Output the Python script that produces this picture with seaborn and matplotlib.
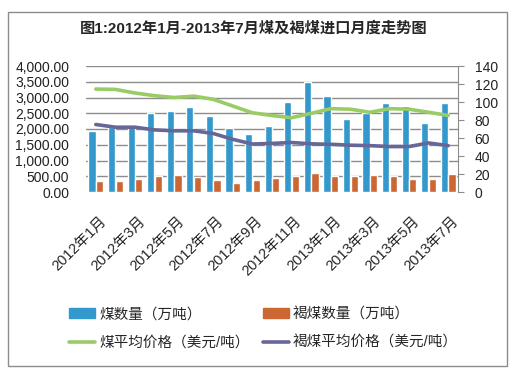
import pandas as pd
import matplotlib
matplotlib.use('Agg')
import matplotlib.pyplot as plt
import seaborn as sns
from matplotlib.patches import Rectangle
from matplotlib.lines import Line2D
from matplotlib.ticker import StrMethodFormatter
from matplotlib.transforms import ScaledTranslation

months = ['2012年1月', '2012年2月', '2012年3月', '2012年4月', '2012年5月', '2012年6月',
          '2012年7月', '2012年8月', '2012年9月', '2012年10月', '2012年11月', '2012年12月',
          '2013年1月', '2013年2月', '2013年3月', '2013年4月', '2013年5月', '2013年6月',
          '2013年7月']
coal_qty = [1950, 2050, 2130, 2500, 2580, 2700, 2420, 2040, 1850, 2100,
            2860, 3480, 3050, 2320, 2520, 2830, 2730, 2190, 2830]
lignite_qty = [350, 350, 420, 520, 540, 490, 390, 300, 390, 455,
               520, 600, 520, 520, 550, 520, 420, 420, 580]
coal_price = [114.4, 114, 110, 107, 105, 106.5, 103, 95.5, 88, 85,
              82.5, 87.4, 92.6, 92, 88.6, 92.6, 92, 88.6, 85]
lignite_price = [75, 72, 72, 69, 68, 68, 65, 58.5, 53.3, 54,
                 55, 53.5, 53, 52, 51.5, 50.5, 50.5, 54.5, 51.5]

series_names = ['煤数量（万吨）', '褐煤数量（万吨）', '煤平均价格（美元/吨）', '褐煤平均价格（美元/吨）']
colors = ['#3399CC', '#CC6633', '#99CC66', '#666699']

sns.set_style('white')
plt.rcParams['font.family'] = ['Liberation Sans', 'Noto Sans CJK SC', 'DejaVu Sans']

bars = pd.DataFrame({
    'month': months * 2,
    'value': coal_qty + lignite_qty,
    'series': [series_names[0]] * len(months) + [series_names[1]] * len(months),
})

fig = plt.figure(figsize=(5.13, 3.73), dpi=100)
ax = fig.add_axes([86 / 513, 1 - 192 / 373, (458 - 86) / 513, (192 - 66) / 373])

sns.barplot(data=bars, x='month', y='value', hue='series', palette=colors[:2],
            width=0.78, gap=0.05, ax=ax, legend=False, saturation=1)
ax.set_ylim(0, 4000)
ax.set_xlim(-0.5, len(months) - 0.5)
ax.set_yticks(range(0, 4001, 500))
ax.yaxis.set_major_formatter(StrMethodFormatter('{x:,.2f}'))
ax.yaxis.grid(True, color='#8C8C8C', linewidth=1)
ax.get_ygridlines()[0].set_visible(False)
ax.set_axisbelow(True)
for s in ax.spines.values():
    s.set_visible(False)
ax.tick_params(axis='y', length=0, pad=12, labelsize=10, colors='#222222')
ax.set_xticks(range(0, len(months), 2))
ax.set_xticklabels(months[::2], rotation=45, ha='right', rotation_mode='anchor', fontsize=10.5)
ax.tick_params(axis='x', length=0, pad=16)
shift = ScaledTranslation(3 / 100, 0, fig.dpi_scale_trans)
for lab in ax.get_xticklabels():
    lab.set_transform(lab.get_transform() + shift)
ax.set_xlabel('')
ax.set_ylabel('')

ax2 = ax.twinx()
idx = list(range(len(months)))
sns.lineplot(x=idx, y=coal_price, color=colors[2], linewidth=2.6, ax=ax2)
sns.lineplot(x=idx, y=lignite_price, color=colors[3], linewidth=2.6, ax=ax2)
ax2.set_ylim(0, 140)
ax2.set_yticks(range(0, 141, 20))
for name, s in ax2.spines.items():
    s.set_visible(name == 'right')
ax2.spines['right'].set_color('#8C8C8C')
ax2.tick_params(axis='y', length=4, color='#8C8C8C', pad=8, labelsize=10, labelcolor='#222222')

fig.text(0.495, 1 - 28 / 373, '图1:2012年1月-2013年7月煤及褐煤进口月度走势图',
         ha='center', va='center', fontsize=11, fontweight='bold')

handles = [
    Rectangle((0, 0), 1, 1, color=colors[0]),
    Line2D([], [], color=colors[2], linewidth=2.6),
    Rectangle((0, 0), 1, 1, color=colors[1]),
    Line2D([], [], color=colors[3], linewidth=2.6),
]
labels = [series_names[0], series_names[2], series_names[1], series_names[3]]
fig.legend(handles, labels, ncol=2, frameon=False, fontsize=10.5,
           loc='upper left', bbox_to_anchor=(56 / 513, 1 - 294 / 373),
           handlelength=1.8, handleheight=0.6, handletextpad=0.25,
           labelspacing=1.0, columnspacing=0.9)

fig.add_artist(Rectangle((8 / 513, 1 - 366 / 373), 499 / 513, 354 / 373,
                         transform=fig.transFigure, fill=False,
                         edgecolor='#8C8C8C', linewidth=1))

fig.savefig('out.png', dpi=100)
